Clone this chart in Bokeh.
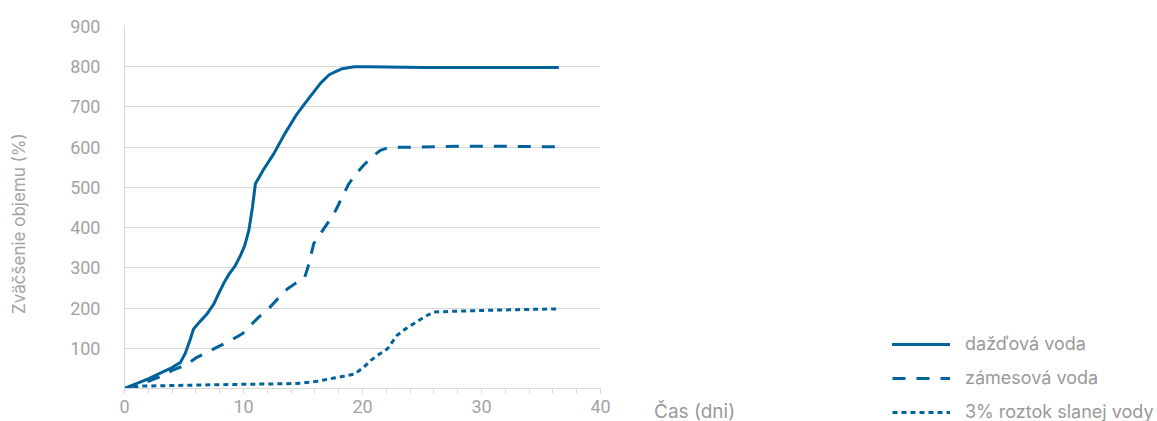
import math
from bokeh.plotting import figure
from bokeh.models import Range1d, FixedTicker, Label, Legend, LegendItem
from bokeh.embed import file_html
from bokeh.resources import INLINE

# ---- data ----
t_rain = [0, 1, 2, 3, 4, 4.7, 5.1, 5.5, 5.8, 6.3, 6.95, 7.5, 7.9, 8.4, 8.8, 9.3, 9.75,
          10.1, 10.45, 10.75, 11.0, 11.7, 12.55, 13.5, 14.5, 15.5, 16.5, 17.2, 17.7,
          18.3, 19.3, 20.5, 25, 30, 36.4]
v_rain = [0, 12, 24, 38, 52, 65, 87, 120, 148, 165, 186, 210, 235, 265, 285, 305, 331,
          355, 393, 450, 509, 545, 584, 635, 683, 722, 760, 780, 787, 795, 800, 800,
          798, 798, 798]

t_mix = [0, 1, 2, 3.2, 4.0, 4.85, 5.3, 6.0, 6.95, 8.0, 8.9, 9.9, 10.6, 11.3, 12.1, 12.9,
         13.7, 14.4, 15.1, 15.5, 15.9, 16.7, 17.6, 18.2, 18.85, 19.5, 20.1, 20.8, 21.5,
         22.0, 22.6, 24, 28, 32, 36.4]
v_mix = [0, 8, 18, 32, 45, 55, 61, 76, 90, 106, 119, 136, 157, 178, 198, 224,
         248, 262, 272, 310, 360, 395, 434, 470, 509, 535, 555, 576, 592,
         597, 600, 600, 602, 602, 601]

t_salt = [0, 1.5, 5, 9.2, 13.7, 14.8, 16.2, 17.6, 18.5, 19.3, 20.0, 20.7, 21.4, 22.1,
          22.9, 23.6, 24.3, 25.2, 26.0, 27.7, 30, 33, 36.4]
v_salt = [0, 6, 8, 10, 12, 13, 18, 26, 31, 36, 50, 70, 85, 99,
          132, 148, 161, 178, 190, 192, 194, 196, 198]

series_names = ["dažďová voda", "zámesová voda", "3% roztok slanej vody"]
x_major = [0, 10, 20, 30, 40]
x_minor = list(range(0, 41, 2))
y_ticks = [100, 200, 300, 400, 500, 600, 700, 800, 900]

y_title = "Zväčšenie objemu (%)"
x_title = "Čas (dni)"

# ---- styling ----
C = "#00629b"
GRID = "#d9d9d9"
TXT = "#a3a3a3"

p = figure(frame_width=476, frame_height=362,
           min_border_left=124, min_border_right=557, min_border_top=26, min_border_bottom=33,
           x_range=Range1d(0, 40), y_range=Range1d(0, 900),
           output_backend="svg", toolbar_location=None)
p.outline_line_color = None
p.background_fill_color = "white"
p.border_fill_color = "white"

p.xgrid.visible = False
p.ygrid.ticker = FixedTicker(ticks=y_ticks)
p.ygrid.grid_line_color = GRID
p.ygrid.grid_line_width = 1

# y axis
p.yaxis.ticker = FixedTicker(ticks=y_ticks)
p.yaxis.axis_line_color = GRID
p.yaxis.major_tick_line_color = None
p.yaxis.minor_tick_line_color = None
p.yaxis.major_label_standoff = 18
p.yaxis.major_label_text_font = "Roboto"
p.yaxis.major_label_text_font_size = "18px"
p.yaxis.major_label_text_color = TXT

# x axis
p.xaxis.ticker = FixedTicker(ticks=x_major, minor_ticks=x_minor)
p.xaxis.axis_line_color = GRID
p.xaxis.major_tick_line_color = GRID
p.xaxis.minor_tick_line_color = GRID
p.xaxis.major_tick_in = 0
p.xaxis.major_tick_out = 5
p.xaxis.minor_tick_in = 0
p.xaxis.minor_tick_out = 5
p.xaxis.major_label_standoff = 6
p.xaxis.major_label_text_font = "Roboto"
p.xaxis.major_label_text_font_size = "18px"
p.xaxis.major_label_text_color = TXT

r1 = p.line(t_rain, v_rain, line_color=C, line_width=3, line_join="round", line_cap="round")
r2 = p.line(t_mix, v_mix, line_color=C, line_width=3, line_dash="13 11", line_join="round")
r3 = p.line(t_salt, v_salt, line_color=C, line_width=3, line_dash="5 4", line_join="round")

legend = Legend(items=[LegendItem(label=series_names[0], renderers=[r1]),
                       LegendItem(label=series_names[1], renderers=[r2]),
                       LegendItem(label=series_names[2], renderers=[r3])],
                location=(292, -34), orientation="vertical",
                glyph_width=58, glyph_height=16, label_height=16, spacing=13,
                padding=0, margin=0, label_standoff=15,
                border_line_color=None, background_fill_alpha=0,
                label_text_font="Inter", label_text_font_size="18px",
                label_text_color="#999999", label_text_baseline="middle")
p.add_layout(legend, "right")

# titles placed in a side panel (not clipped), positioned with the plot's own scales
p.add_layout(Label(x=-8.9, y=410, text=y_title, angle=math.pi / 2,
                   text_align="center", text_baseline="middle",
                   text_font="Inter", text_font_size="17px", text_color=TXT), "right")
p.add_layout(Label(x=44.5, y=-57, text=x_title,
                   text_align="left", text_baseline="middle",
                   text_font="Inter", text_font_size="19px", text_color="#999999"), "right")

open("out.html", "w").write(file_html(p, INLINE))
